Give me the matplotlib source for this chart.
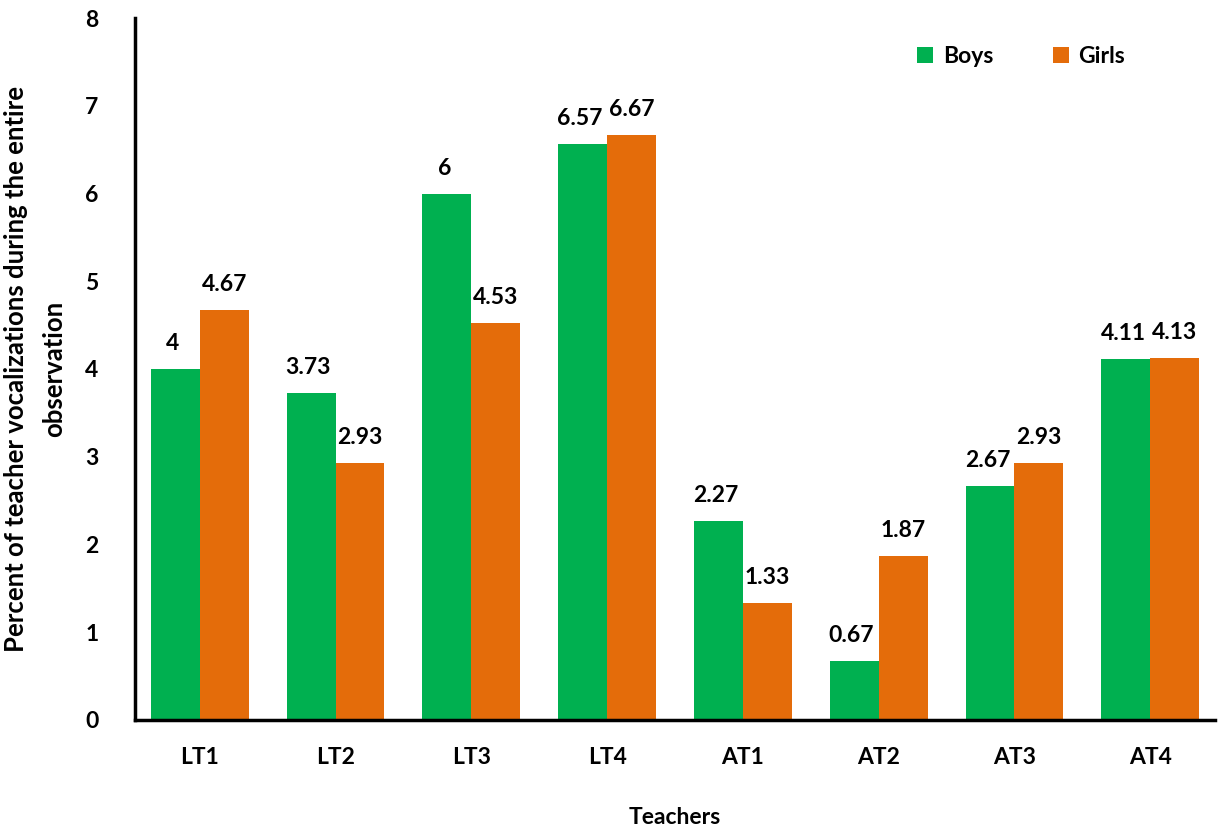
import numpy as np
import matplotlib.pyplot as plt

plt.rcParams['font.family'] = ['Lato', 'DejaVu Sans']

teachers = ['LT1', 'LT2', 'LT3', 'LT4', 'AT1', 'AT2', 'AT3', 'AT4']
boys = [4, 3.73, 6, 6.57, 2.27, 0.67, 2.67, 4.11]
girls = [4.67, 2.93, 4.53, 6.67, 1.33, 1.87, 2.93, 4.13]
boys_lbl = ['4', '3.73', '6', '6.57', '2.27', '0.67', '2.67', '4.11']
girls_lbl = ['4.67', '2.93', '4.53', '6.67', '1.33', '1.87', '2.93', '4.13']

green = '#00B050'
orange = '#E46C0A'

fig = plt.figure(figsize=(12.24, 8.32), dpi=100)
ax = fig.add_axes([0.110, 0.135, 0.883, 0.843])

x = np.arange(len(teachers))
w = 0.36
b1 = ax.bar(x - w / 2, boys, w, color=green, label='Boys')
b2 = ax.bar(x + w / 2, girls, w, color=orange, label='Girls')

for rect, t in zip(b1, boys_lbl):
    ax.text(rect.get_x() + rect.get_width() / 2 - 0.02, rect.get_height() + 0.17, t,
            ha='center', va='bottom', fontsize=16.5, fontweight='bold')
for rect, t in zip(b2, girls_lbl):
    ax.text(rect.get_x() + rect.get_width() / 2, rect.get_height() + 0.17, t,
            ha='center', va='bottom', fontsize=16.5, fontweight='bold')

ax.set_xlim(-0.48, 7.48)
ax.set_ylim(0, 8)
ax.set_yticks(range(0, 9))
ax.set_xticks(x)
ax.set_xticklabels(teachers)
for s in ['top', 'right']:
    ax.spines[s].set_visible(False)
for s in ['left', 'bottom']:
    ax.spines[s].set_linewidth(2.5)
ax.tick_params(axis='y', length=0, pad=26, labelsize=16.5)
ax.tick_params(axis='x', length=0, pad=20, labelsize=16.5)
for lab in ax.get_xticklabels() + ax.get_yticklabels():
    lab.set_fontweight('bold')

ax.set_xlabel('Teachers', fontsize=16.5, fontweight='bold', labelpad=28)
ax.set_ylabel('Percent of teacher vocalizations during the entire\nobservation',
              fontsize=18.5, fontweight='bold', labelpad=14, linespacing=1.7)

ax.legend(loc='upper right', bbox_to_anchor=(0.935, 0.99), ncol=2, frameon=False,
          prop={'size': 16.5, 'weight': 'bold'}, handlelength=0.7, handleheight=0.7,
          columnspacing=2.6, handletextpad=0.4)

fig.savefig('out.png')
